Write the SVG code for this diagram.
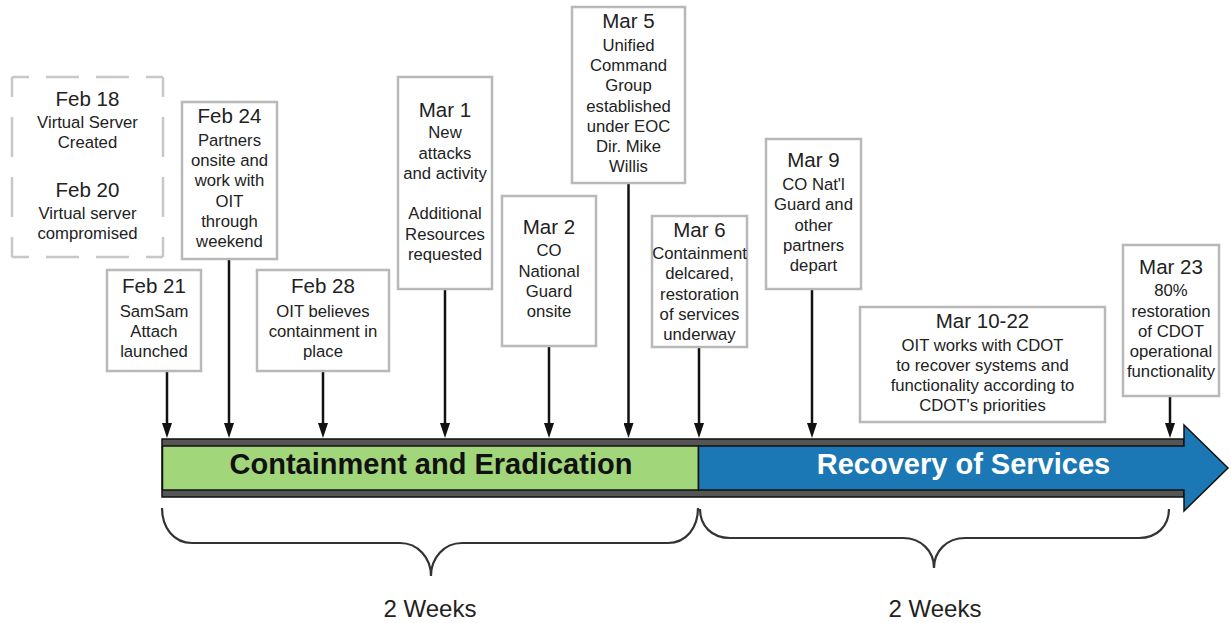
<svg xmlns="http://www.w3.org/2000/svg" width="1231" height="623" viewBox="0 0 1231 623">
<defs>
<style>
.box{fill:#fff;stroke:#b8b8b8;stroke-width:2.5}
.dash{fill:none;stroke:#c8c8c8;stroke-width:2.5}
.h{font-family:"Liberation Sans",Arial,sans-serif;font-size:20.5px;fill:#222;text-anchor:middle}
.t{font-family:"Liberation Sans",Arial,sans-serif;font-size:16.7px;fill:#222;text-anchor:middle}
.con{stroke:#111;stroke-width:2.5;fill:none;marker-end:url(#ah)}
.brace{fill:none;stroke:#333;stroke-width:2.2}
.wk{font-family:"Liberation Sans",Arial,sans-serif;font-size:24px;fill:#222;text-anchor:middle}
.bar{font-family:"Liberation Sans",Arial,sans-serif;font-size:29px;font-weight:bold;text-anchor:middle}
</style>
<marker id="ah" viewBox="0 0 15 10" refX="8" refY="5" markerWidth="15" markerHeight="10" markerUnits="userSpaceOnUse" orient="auto">
<path d="M0,0 L15,5 L0,10 z" fill="#111"/>
</marker>
</defs>
<rect width="1231" height="623" fill="#fff"/>

<g id="timeline-bar">
<rect x="162" y="439" width="1022" height="58" fill="#555" stroke="#111" stroke-width="1.5"/>
<rect x="162.5" y="446" width="536" height="44" fill="#a2d67b" stroke="#111" stroke-width="1.5"/>
<polygon points="698.5,446 1184,446 1184,425 1228,468 1184,511 1184,490 698.5,490" fill="#1b78b5" stroke="#111" stroke-width="1.5"/>
<text class="bar" x="431" y="474" fill="#111">Containment and Eradication</text>
<text class="bar" x="963.5" y="474" fill="#fff">Recovery of Services</text>
</g>

<g id="connectors">
<line class="con" x1="167" y1="371" x2="167" y2="431"/>
<line class="con" x1="229" y1="259" x2="229" y2="431"/>
<line class="con" x1="323" y1="371" x2="323" y2="431"/>
<line class="con" x1="445" y1="289" x2="445" y2="431"/>
<line class="con" x1="549" y1="346" x2="549" y2="431"/>
<line class="con" x1="628.5" y1="183" x2="628.5" y2="431"/>
<line class="con" x1="699" y1="347" x2="699" y2="431"/>
<line class="con" x1="812" y1="289" x2="812" y2="431"/>
<line class="con" x1="1170" y1="396" x2="1170" y2="431"/>
</g>

<g id="feb18-20">
<path class="dash" d="M12,77 H163" stroke-dasharray="33 17" stroke-dashoffset="16"/>
<path class="dash" d="M12,257 H163" stroke-dasharray="33 17" stroke-dashoffset="16"/>
<path class="dash" d="M12,77 V257" stroke-dasharray="40 20" stroke-dashoffset="20"/>
<path class="dash" d="M163,77 V257" stroke-dasharray="40 20" stroke-dashoffset="20"/>
<text class="h" x="87.5" y="106">Feb 18</text>
<text class="t" x="87.5" y="128">Virtual Server</text>
<text class="t" x="87.5" y="148">Created</text>
<text class="h" x="87.5" y="197">Feb 20</text>
<text class="t" x="87.5" y="219">Virtual server</text>
<text class="t" x="87.5" y="239">compromised</text>
</g>

<g id="feb24">
<rect class="box" x="182" y="102" width="95" height="157"/>
<text class="h" x="229.5" y="123">Feb 24</text>
<text class="t" x="229.5" y="145.5">Partners</text>
<text class="t" x="229.5" y="166">onsite and</text>
<text class="t" x="229.5" y="186">work with</text>
<text class="t" x="229.5" y="206.5">OIT</text>
<text class="t" x="229.5" y="226.5">through</text>
<text class="t" x="229.5" y="246.5">weekend</text>
</g>

<g id="feb21">
<rect class="box" x="107" y="270" width="94" height="101"/>
<text class="h" x="154" y="293">Feb 21</text>
<text class="t" x="154" y="316.5">SamSam</text>
<text class="t" x="154" y="336.5">Attach</text>
<text class="t" x="154" y="356.5">launched</text>
</g>

<g id="feb28">
<rect class="box" x="257" y="270" width="132" height="101"/>
<text class="h" x="323" y="293">Feb 28</text>
<text class="t" x="323" y="316.5">OIT believes</text>
<text class="t" x="323" y="336.5">containment in</text>
<text class="t" x="323" y="356.5">place</text>
</g>

<g id="mar1">
<rect class="box" x="398" y="77" width="94" height="212"/>
<text class="h" x="445" y="116.5">Mar 1</text>
<text class="t" x="445" y="138">New</text>
<text class="t" x="445" y="158.5">attacks</text>
<text class="t" x="445" y="179">and activity</text>
<text class="t" x="445" y="219">Additional</text>
<text class="t" x="445" y="239.5">Resources</text>
<text class="t" x="445" y="260">requested</text>
</g>

<g id="mar2">
<rect class="box" x="502" y="196" width="94" height="150"/>
<text class="h" x="549" y="234">Mar 2</text>
<text class="t" x="549" y="256">CO</text>
<text class="t" x="549" y="276.5">National</text>
<text class="t" x="549" y="296.5">Guard</text>
<text class="t" x="549" y="316.5">onsite</text>
</g>

<g id="mar5">
<rect class="box" x="572" y="7" width="113" height="176"/>
<text class="h" x="628.5" y="28">Mar 5</text>
<text class="t" x="628.5" y="50.5">Unified</text>
<text class="t" x="628.5" y="70.5">Command</text>
<text class="t" x="628.5" y="90.7">Group</text>
<text class="t" x="628.5" y="111.5">established</text>
<text class="t" x="628.5" y="131.7">under EOC</text>
<text class="t" x="628.5" y="152">Dir. Mike</text>
<text class="t" x="628.5" y="172">Willis</text>
</g>

<g id="mar6">
<rect class="box" x="652" y="216" width="95" height="131"/>
<text class="h" x="699.5" y="237">Mar 6</text>
<text class="t" x="699.5" y="259">Containment</text>
<text class="t" x="699.5" y="279">delcared,</text>
<text class="t" x="699.5" y="299.5">restoration</text>
<text class="t" x="699.5" y="319.5">of services</text>
<text class="t" x="699.5" y="339.5">underway</text>
</g>

<g id="mar9">
<rect class="box" x="766" y="139" width="95" height="150"/>
<text class="h" x="813.5" y="167">Mar 9</text>
<text class="t" x="813.5" y="190">CO Nat'l</text>
<text class="t" x="813.5" y="210">Guard and</text>
<text class="t" x="813.5" y="230.5">other</text>
<text class="t" x="813.5" y="250.5">partners</text>
<text class="t" x="813.5" y="270.5">depart</text>
</g>

<g id="mar10-22">
<rect class="box" x="860" y="307" width="245" height="115"/>
<text class="h" x="982.5" y="328">Mar 10-22</text>
<text class="t" x="982.5" y="350.5">OIT works with CDOT</text>
<text class="t" x="982.5" y="370.5">to recover systems and</text>
<text class="t" x="982.5" y="390.5">functionality according to</text>
<text class="t" x="982.5" y="410.5">CDOT's priorities</text>
</g>

<g id="mar23">
<rect class="box" x="1123" y="245" width="96" height="151"/>
<text class="h" x="1171" y="274">Mar 23</text>
<text class="t" x="1171" y="296">80%</text>
<text class="t" x="1171" y="316.5">restoration</text>
<text class="t" x="1171" y="336.5">of CDOT</text>
<text class="t" x="1171" y="357">operational</text>
<text class="t" x="1171" y="377">functionality</text>
</g>

<g id="brace-left">
<path class="brace" d="M162,508 C162,528 174,543 192,543 L400,543 C418,543 431,558 431,576 C431,558 444,543 462,543 L668,543 C686,543 698,528 698,508"/>
<text class="wk" x="430" y="617">2 Weeks</text>
</g>

<g id="brace-right">
<path class="brace" d="M700,509 C700,526 712,538 730,538 L903,538 C921,538 934,551 934,568 C934,551 947,538 965,538 L1139,538 C1157,538 1169,526 1169,509"/>
<text class="wk" x="935" y="617">2 Weeks</text>
</g>
</svg>
